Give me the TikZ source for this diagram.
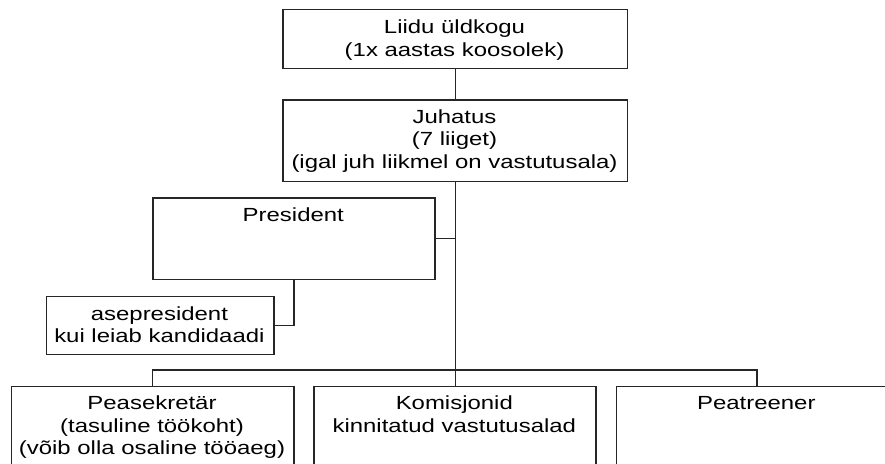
\documentclass[tikz,border=0pt]{standalone}
\usepackage{fontspec}
\setmainfont{Liberation Sans}[FakeStretch=1.26]
\begin{document}
\begin{tikzpicture}[x=1pt,y=-1pt,
  box/.style={draw=black!85, line width=1.3pt, rectangle, inner sep=0pt, anchor=north west},
  txt/.style={align=center, inner sep=0pt, anchor=north, font=\fontsize{19}{22.3}\selectfont},
  conn/.style={draw=black!85, line width=1.3pt}]
\useasboundingbox (0,0) rectangle (885,463);
\clip (0,0) rectangle (885,463);
% boxes
\node[box, minimum width=344.4pt, minimum height=58.7pt] (b1) at (282.3,9) {};
\node[box, minimum width=344.4pt, minimum height=81.7pt] (b2) at (282.3,99.3) {};
\node[box, minimum width=282pt, minimum height=81.4pt] (pres) at (152.3,197.3) {};
\node[box, minimum width=227.8pt, minimum height=58.3pt] (vp) at (45.5,295.7) {};
\node[box, minimum width=282.6pt, minimum height=140pt] (A) at (10.7,385.7) {};
\node[box, minimum width=282.1pt, minimum height=140pt] (B) at (313.2,385.7) {};
\node[box, minimum width=281.3pt, minimum height=140pt] (C) at (615.7,385.7) {};
% texts
\node[txt] (t1) at (454.5,20) {Liidu üldkogu\\(1x aastas koosolek)};
\node[txt] (t2) at (454.5,109.6) {Juhatus\\(7 liiget)\\(igal juh liikmel on vastutusala)};
\node[txt] (t3) at (293.3,208) {President};
\node[txt] (t4) at (159.4,306.3) {asepresident\\kui leiab kandidaadi};
\node[txt] (tA) at (152,395.8) {Peasekretär\\(tasuline töökoht)\\(võib olla osaline tööaeg)};
\node[txt] (tB) at (454.3,395.8) {Komisjonid\\kinnitatud vastutusalad};
\node[txt] (tC) at (756.3,395.8) {Peatreener};
% connectors
\coordinate (bus) at (0,370);
\draw[conn] (b1.south) -- (b2.north);
\draw[conn] (b2.south) -- (b2.south |- B.north);
\draw[conn] (pres.east) -- (pres.east -| b2.south);
\draw[conn] (pres.south) |- (vp.east);
\draw[conn] (A.north) -- (A.north |- bus) -- (C.north |- bus) -- (C.north);
\end{tikzpicture}
\end{document}
